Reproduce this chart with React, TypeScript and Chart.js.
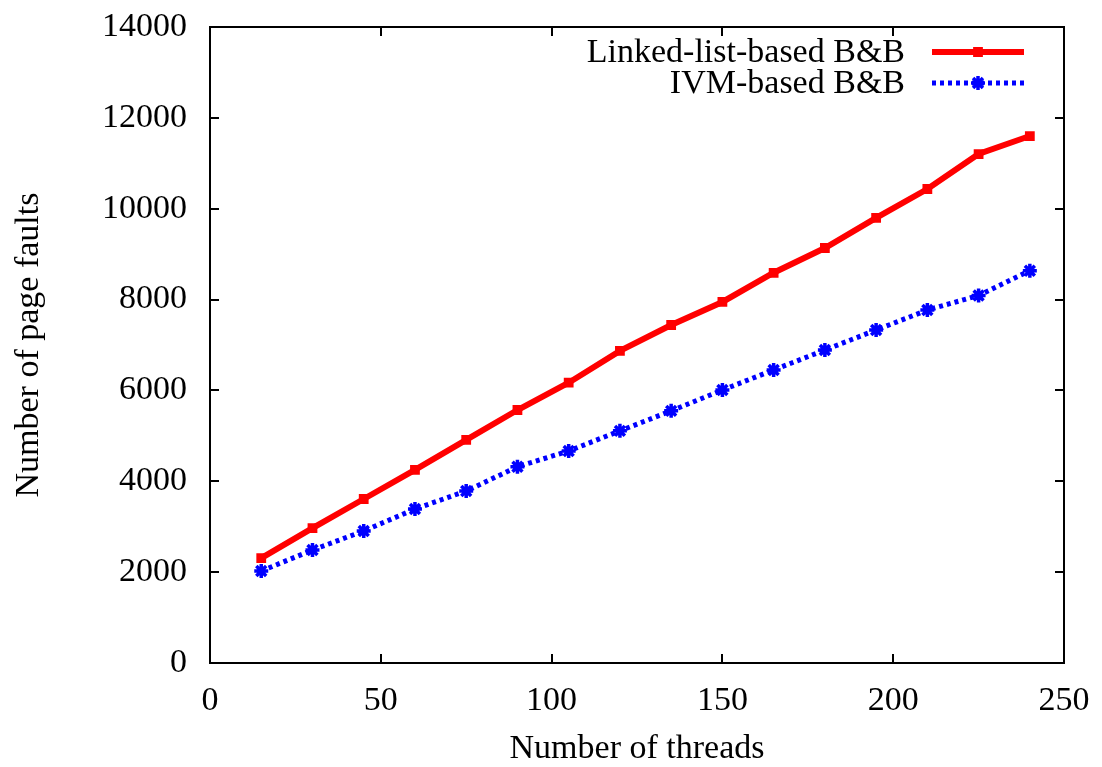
import React, { useEffect, useRef } from "react";
import { Chart, registerables } from "chart.js";
import { drawPoint } from "chart.js/helpers";

Chart.register(...registerables);

const threads = [15, 30, 45, 60, 75, 90, 105, 120, 135, 150, 165, 180, 195, 210, 225, 240];
const linkedList = [2310, 2970, 3610, 4250, 4910, 5569, 6170, 6870, 7440, 7947, 8590, 9135, 9800, 10434, 11204, 11600];
const ivm = [2025, 2487, 2906, 3390, 3786, 4320, 4667, 5110, 5550, 6009, 6450, 6890, 7330, 7770, 8090, 8635];
const seriesLabels = ["Linked-list-based B&B", "IVM-based B&B"];
const xTicks = [0, 50, 100, 150, 200, 250];
const yTicks = [0, 2000, 4000, 6000, 8000, 10000, 12000, 14000];

const FONT = "'Liberation Serif', 'DejaVu Serif', serif";
const FS = 34;

const framePlugin = {
  id: "frameTicks",
  afterDatasetsDraw(chart: any) {
    const { ctx, chartArea: a, scales } = chart;
    const tl = 9;
    ctx.save();
    ctx.strokeStyle = "#000";
    ctx.lineWidth = 2;
    ctx.beginPath();
    xTicks.forEach((v) => {
      const x = Math.round(scales.x.getPixelForValue(v));
      ctx.moveTo(x, a.bottom);
      ctx.lineTo(x, a.bottom - tl);
      ctx.moveTo(x, a.top);
      ctx.lineTo(x, a.top + tl);
    });
    yTicks.forEach((v) => {
      const y = Math.round(scales.y.getPixelForValue(v));
      ctx.moveTo(a.left, y);
      ctx.lineTo(a.left + tl, y);
      ctx.moveTo(a.right, y);
      ctx.lineTo(a.right - tl, y);
    });
    ctx.stroke();
    ctx.strokeRect(a.left, a.top, a.right - a.left, a.bottom - a.top);
    ctx.restore();
  },
  afterDraw(chart: any) {
    const { ctx, chartArea: a } = chart;
    ctx.save();
    ctx.font = `${FS}px ${FONT}`;
    ctx.textAlign = "right";
    ctx.textBaseline = "middle";
    ctx.fillStyle = "#000";
    chart.data.datasets.forEach((ds: any, i: number) => {
      const y = a.top + 25 + i * 31;
      const textRight = a.right - 159;
      ctx.fillText(ds.label, textRight, y + 1);
      const x0 = a.right - 132;
      const x1 = a.right - 40;
      ctx.save();
      ctx.strokeStyle = ds.borderColor;
      ctx.lineWidth = ds.borderWidth;
      ctx.setLineDash(ds.borderDash || []);
      ctx.beginPath();
      ctx.moveTo(x0, y);
      ctx.lineTo(x1, y);
      ctx.stroke();
      ctx.restore();
      ctx.save();
      ctx.fillStyle = ds.pointBackgroundColor;
      ctx.strokeStyle = ds.pointBorderColor;
      ctx.lineWidth = ds.pointBorderWidth;
      drawPoint(ctx, { pointStyle: ds.pointStyle, radius: ds.pointRadius, rotation: 0, borderWidth: ds.pointBorderWidth }, (x0 + x1) / 2, y);
      ctx.restore();
    });
    ctx.restore();
  },
};

const zeroPad = (s: any) => {
  s.paddingTop = 0;
  s.paddingBottom = 0;
  s.paddingLeft = 0;
  s.paddingRight = 0;
};

export default function App() {
  const ref = useRef<HTMLCanvasElement>(null);
  useEffect(() => {
    document.body.style.margin = "0";
    const chart = new Chart(ref.current!, {
      type: "line",
      data: {
        datasets: [
          {
            label: seriesLabels[0],
            data: threads.map((t, i) => ({ x: t, y: linkedList[i] })),
            borderColor: "#ff0000",
            backgroundColor: "#ff0000",
            borderWidth: 6,
            pointStyle: "rect",
            pointRadius: 5.5,
            pointBorderWidth: 2,
            pointBackgroundColor: "#ff0000",
            pointBorderColor: "#ff0000",
            fill: false,
          },
          {
            label: seriesLabels[1],
            data: threads.map((t, i) => ({ x: t, y: ivm[i] })),
            borderColor: "#0000ff",
            backgroundColor: "#0000ff",
            borderWidth: 5,
            borderDash: [4, 4],
            pointStyle: "star",
            pointRadius: 7,
            pointBorderWidth: 3.5,
            pointBackgroundColor: "#0000ff",
            pointBorderColor: "#0000ff",
            fill: false,
          },
        ],
      },
      options: {
        animation: false,
        responsive: false,
        events: [],
        layout: { padding: { top: 27, right: 38, left: 0, bottom: 0 } },
        plugins: { legend: { display: false }, tooltip: { enabled: false } },
        scales: {
          x: {
            type: "linear",
            min: 0,
            max: 250,
            afterFit: (s: any) => { s.height = 104; zeroPad(s); },
            afterBuildTicks: (s: any) => { s.ticks = xTicks.map((v) => ({ value: v })); },
            grid: { display: false, drawTicks: false },
            border: { display: false },
            ticks: { color: "#000", font: { family: FONT, size: FS }, padding: 18, maxRotation: 0 },
            title: { display: true, text: "Number of threads", color: "#000", font: { family: FONT, size: FS }, padding: { top: 0, bottom: -2 } },
          },
          y: {
            type: "linear",
            min: 0,
            max: 14000,
            afterFit: (s: any) => { s.width = 210; zeroPad(s); },
            afterBuildTicks: (s: any) => { s.ticks = yTicks.map((v) => ({ value: v })); },
            grid: { display: false, drawTicks: false },
            border: { display: false },
            ticks: { color: "#000", font: { family: FONT, size: FS }, padding: 23, callback: (v: any) => String(v) },
            title: { display: true, text: "Number of page faults", color: "#000", font: { family: FONT, size: FS }, padding: { top: 9, bottom: 0 } },
          },
        },
      },
      plugins: [framePlugin],
    });
    return () => chart.destroy();
  }, []);
  return (
    <div style={{ position: "absolute", left: 0, top: 0, width: 1102, height: 767 }}>
      <canvas ref={ref} width={1102} height={767} style={{ width: 1102, height: 767 }} />
    </div>
  );
}
